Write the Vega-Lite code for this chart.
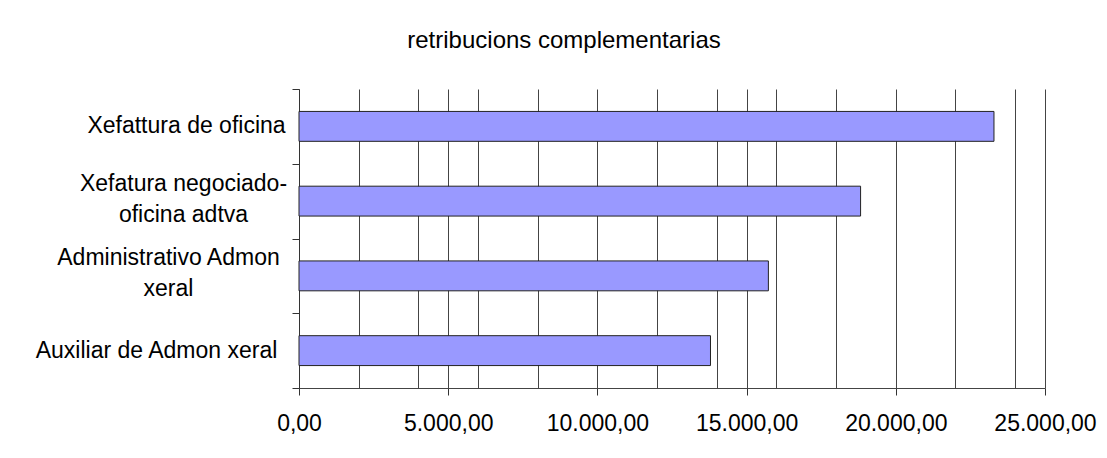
{
  "$schema": "https://vega.github.io/schema/vega-lite/v6.json",
  "width": 746,
  "height": 299,
  "autosize": {"type": "none"},
  "padding": {"left": 299, "top": 89, "right": 62, "bottom": 70},
  "background": "white",
  "title": {
    "text": "retribucions complementarias",
    "font": "Liberation Sans",
    "fontSize": 24,
    "fontWeight": "normal",
    "color": "#000000",
    "baseline": "alphabetic",
    "offset": 17,
    "anchor": "middle",
    "frame": "group",
    "dx": -108
  },
  "data": {
    "values": [
      {"posto": "Xefattura de oficina", "valor": 23290},
      {"posto": "Xefatura negociado-oficina adtva", "valor": 18820},
      {"posto": "Administrativo Admon xeral", "valor": 15730},
      {"posto": "Auxiliar de Admon xeral", "valor": 13790}
    ]
  },
  "layer": [
    {
      "mark": {"type": "bar", "opacity": 0},
      "encoding": {
        "y": {
          "field": "posto",
          "type": "nominal",
          "sort": null,
          "scale": {"paddingInner": 0, "paddingOuter": 0},
          "axis": {
            "orient": "left",
            "title": null,
            "labels": false,
            "ticks": true,
            "tickBand": "extent",
            "tickSize": 7,
            "tickColor": "#333333",
            "domain": true,
            "domainColor": "#333333",
            "grid": false
          }
        }
      }
    },
    {
      "mark": {"type": "bar", "fill": "#9999ff", "stroke": "#222222", "strokeWidth": 1},
      "encoding": {
        "y": {
          "field": "posto",
          "type": "nominal",
          "sort": null,
          "scale": {"paddingInner": 0.6, "paddingOuter": 0.3},
          "axis": {
            "orient": "left",
            "title": null,
            "domain": false,
            "ticks": false,
            "tickSize": 0,
            "grid": false,
            "labelAlign": "center",
            "labelBaseline": "middle",
            "labelFont": "Liberation Sans",
            "labelFontSize": 23,
            "labelColor": "#000000",
            "labelLineHeight": 31,
            "labelLimit": 0,
            "labelPadding": {
              "condition": [
                {"test": "datum.value == 'Xefattura de oficina'", "value": 113},
                {"test": "datum.value == 'Xefatura negociado-oficina adtva'", "value": 116},
                {"test": "datum.value == 'Administrativo Admon xeral'", "value": 131}
              ],
              "value": 143
            },
            "labelOffset": {
              "condition": [
                {"test": "datum.value == 'Xefatura negociado-oficina adtva'", "value": -17},
                {"test": "datum.value == 'Administrativo Admon xeral'", "value": -18}
              ],
              "value": 0
            },
            "labelExpr": "datum.label == 'Xefatura negociado-oficina adtva' ? ['Xefatura negociado-', 'oficina adtva'] : datum.label == 'Administrativo Admon xeral' ? ['Administrativo Admon', 'xeral'] : datum.label"
          }
        },
        "x": {
          "field": "valor",
          "type": "quantitative",
          "scale": {"domain": [0, 25000], "nice": false, "zero": true},
          "axis": {
            "orient": "bottom",
            "title": null,
            "values": [0, 2000, 4000, 5000, 6000, 8000, 10000, 12000, 14000, 15000, 16000, 18000, 20000, 22000, 24000, 25000],
            "grid": true,
            "gridColor": "#444444",
            "gridWidth": 1,
            "domain": true,
            "domainColor": "#444444",
            "ticks": true,
            "tickSize": 7,
            "tickColor": "#333333",
            "tickOpacity": {"condition": {"test": "datum.value % 5000 == 0", "value": 1}, "value": 0},
            "labelExpr": "datum.value % 5000 == 0 ? replace(replace(replace(format(datum.value, ',.2f'), ',', '#'), '.', ','), '#', '.') : ''",
            "labelFont": "Liberation Sans",
            "labelFontSize": 23,
            "labelColor": "#000000",
            "labelPadding": 17,
            "labelOverlap": false,
            "labelFlush": false,
            "labelBound": false
          }
        }
      }
    }
  ],
  "resolve": {"scale": {"y": "independent"}, "axis": {"y": "independent"}},
  "config": {"view": {"stroke": null}}
}
